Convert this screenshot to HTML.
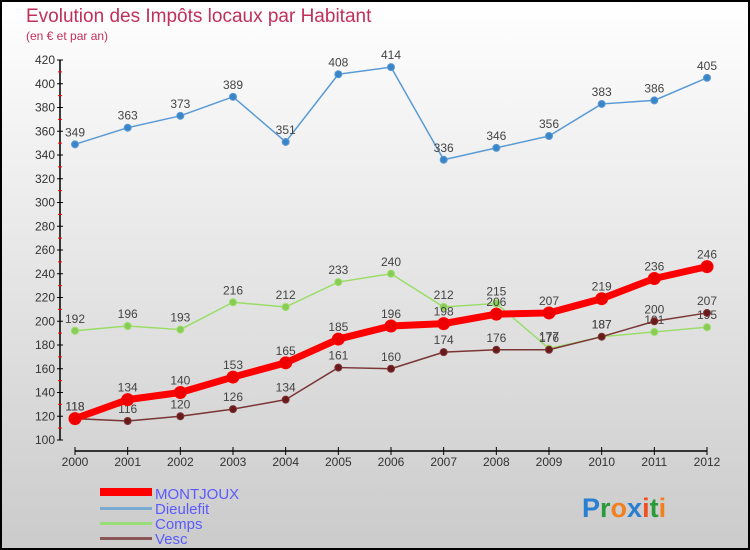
<!DOCTYPE html>
<html><head><meta charset="utf-8"><style>
body{margin:0}
svg{display:block;font-family:"Liberation Sans",sans-serif}
</style></head><body>
<svg id="c" width="750" height="550">
<defs><linearGradient id="bg" x1="0" y1="0" x2="0" y2="1"><stop offset="0" stop-color="#ffffff"/><stop offset="1" stop-color="#cbcbcb"/></linearGradient></defs>
<rect x="1" y="1" width="748" height="548" fill="url(#bg)" stroke="#000" stroke-width="2"/>
<text x="26" y="22" font-size="19" fill="#c0305a">Evolution des Impôts locaux par Habitant</text>
<text x="26" y="40" font-size="12" fill="#c0305a">(en € et par an)</text>
<g id="axes"></g><g id="series"></g>
<g>
<rect x="100" y="488" width="52" height="8" fill="#f00"/>
<text x="155" y="499" font-size="15" fill="#5a5aff">MONTJOUX</text>
<rect x="100" y="507" width="52" height="3" fill="#7aaad0"/>
<text x="155" y="514" font-size="15" fill="#5a5aff">Dieulefit</text>
<rect x="100" y="522" width="52" height="3" fill="#99dd77"/>
<text x="155" y="529" font-size="15" fill="#5a5aff">Comps</text>
<rect x="100" y="537" width="52" height="3" fill="#8a5555"/>
<text x="155" y="544" font-size="15" fill="#5a5aff">Vesc</text>
</g>
<text x="582" y="517" font-size="27" font-weight="bold"><tspan fill="#2a7fd0">P</tspan><tspan fill="#2a9a3a">r</tspan><tspan fill="#f08020">o</tspan><tspan fill="#2a7fd0">x</tspan><tspan fill="#f05020">i</tspan><tspan fill="#2a9a3a">t</tspan><tspan fill="#f08020">i</tspan></text>
</svg>
<script>
const years=["2000","2001","2002","2003","2004","2005","2006","2007","2008","2009","2010","2011","2012"];
const montjoux=[118,134,140,153,165,185,196,198,206,207,219,236,246];
const dieulefit=[349,363,373,389,351,408,414,336,346,356,383,386,405];
const comps=[192,196,193,216,212,233,240,212,215,177,187,191,195];
const vesc=[118,116,120,126,134,161,160,174,176,176,187,200,207];
const yTicks=[100,120,140,160,180,200,220,240,260,280,300,320,340,360,380,400,420];
const NS="http://www.w3.org/2000/svg";
const X=i=>75+i*(707-75)/12;
const Y=v=>440-(v-100)*(380/320);
function mk(t,a,p){const e=document.createElementNS(NS,t);for(const k in a)e.setAttribute(k,a[k]);p.appendChild(e);return e;}
const ax=document.getElementById('axes'),sg=document.getElementById('series');
let l=mk('line',{x1:60,y1:Y(420),x2:60,y2:Y(100),stroke:'#000','stroke-width':1.5},ax);


yTicks.forEach(v=>{
 let t=mk('line',{x1:57,x2:63,y1:Y(v),y2:Y(v),stroke:'#000'},ax);
 
 
 let m=mk('line',{x1:58,x2:62,y1:Y(v+10),y2:Y(v+10),stroke:'#f00'},ax);
 if(v===420)m.remove();
 
 
 let tx=mk('text',{x:55,y:Y(v)+4,'font-size':12,fill:'#333','text-anchor':'end'},ax);tx.textContent=v;
 
 
});
l=mk('line',{x1:X(0),y1:451,x2:X(12),y2:451,stroke:'#000','stroke-width':1.5},ax);


years.forEach((y,i)=>{
 let t=mk('line',{x1:X(i),x2:X(i),y1:447,y2:455,stroke:'#000'},ax);
 
 
 let tx=mk('text',{x:X(i),y:466,'font-size':12,fill:'#333','text-anchor':'middle'},ax);tx.textContent=y;
 
 
});
function series(name,data,color,w,r,dot){
 const g=mk('g',{},sg);
 
 
 const pl=mk('polyline',{points:data.map((v,i)=>X(i)+','+Y(v)).join(' '),fill:'none',stroke:color,'stroke-width':w,'stroke-linejoin':'round'},g);
 
 
 data.forEach((v,i)=>{
  const c=mk('circle',{cx:X(i),cy:Y(v),r:r,fill:dot,stroke:color,'stroke-width':1},g);
  
  
  const t=mk('text',{x:X(i),y:Y(v)-8,'font-size':12,fill:'#444','text-anchor':'middle'},g);t.textContent=v;
  
  
 });
}
series('dieulefit',dieulefit,'#5a9ad5',1.5,3.5,'#3a85c8');
series('comps',comps,'#99dd66',1.5,3.5,'#88cc55');
series('vesc',vesc,'#7a3535',1.5,3.5,'#6a1a1a');
series('montjoux',montjoux,'#ff0000',7,6,'#ee0000');
</script>
</body></html>
